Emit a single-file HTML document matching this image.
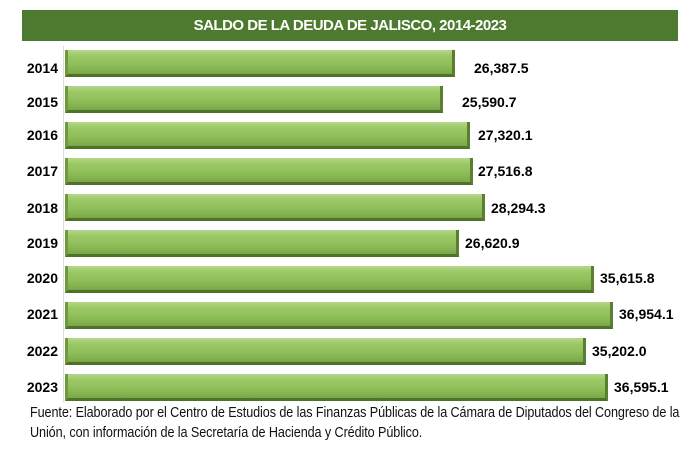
<!DOCTYPE html><html><head><style>
body{margin:0;width:700px;height:454px;background:#fff;position:relative;font-family:"Liberation Sans",sans-serif;overflow:hidden}
.t{position:absolute;left:22px;top:10px;width:656px;height:31px;background:#4e7a30;color:#fff;font-weight:bold;font-size:15px;line-height:31px;text-align:center;letter-spacing:-0.5px}
.y{position:absolute;left:20px;width:38px;text-align:right;font-weight:bold;font-size:14px}
.b{position:absolute;left:65px;height:24px;background:linear-gradient(#b4d88a 0%,#9bc865 25%,#8fbf5a 60%,#7aa848 100%);border-right:3px solid #5a7f33;border-bottom:3px solid #4f7229;border-left:3px solid #6e9a3c;box-sizing:content-box}
.v{position:absolute;font-weight:bold;font-size:14px}
.f{position:absolute;left:30px;top:403px;width:760px;font-size:14.5px;line-height:20px;color:#111;transform:scaleX(0.87);transform-origin:0 0;letter-spacing:-0.1px}
</style></head><body>
<div class="t">SALDO DE LA DEUDA DE JALISCO, 2014-2023</div>
<div style="position:absolute;left:63px;top:46px;width:1px;height:356px;background:#ddd"></div>
<div class="y" style="top:60px">2014</div><div class="b" style="top:50px;width:384px"></div><div class="v" style="left:474px;top:60px">26,387.5</div>
<div class="y" style="top:94px">2015</div><div class="b" style="top:86px;width:372px"></div><div class="v" style="left:462px;top:94px">25,590.7</div>
<div class="y" style="top:127px">2016</div><div class="b" style="top:122px;width:399px"></div><div class="v" style="left:478px;top:127px">27,320.1</div>
<div class="y" style="top:163px">2017</div><div class="b" style="top:158px;width:402px"></div><div class="v" style="left:478px;top:163px">27,516.8</div>
<div class="y" style="top:200px">2018</div><div class="b" style="top:194px;width:414px"></div><div class="v" style="left:491px;top:200px">28,294.3</div>
<div class="y" style="top:235px">2019</div><div class="b" style="top:230px;width:388px"></div><div class="v" style="left:465px;top:235px">26,620.9</div>
<div class="y" style="top:270px">2020</div><div class="b" style="top:266px;width:523px"></div><div class="v" style="left:600px;top:270px">35,615.8</div>
<div class="y" style="top:306px">2021</div><div class="b" style="top:302px;width:542px"></div><div class="v" style="left:619px;top:306px">36,954.1</div>
<div class="y" style="top:343px">2022</div><div class="b" style="top:338px;width:515px"></div><div class="v" style="left:592px;top:343px">35,202.0</div>
<div class="y" style="top:379px">2023</div><div class="b" style="top:374px;width:537px"></div><div class="v" style="left:614px;top:379px">36,595.1</div>
<div class="f">Fuente: Elaborado por el Centro de Estudios de las Finanzas Públicas de la Cámara de Diputados del Congreso de la<br>Unión, con información de la Secretaría de Hacienda y Crédito Público.</div>
</body></html>
